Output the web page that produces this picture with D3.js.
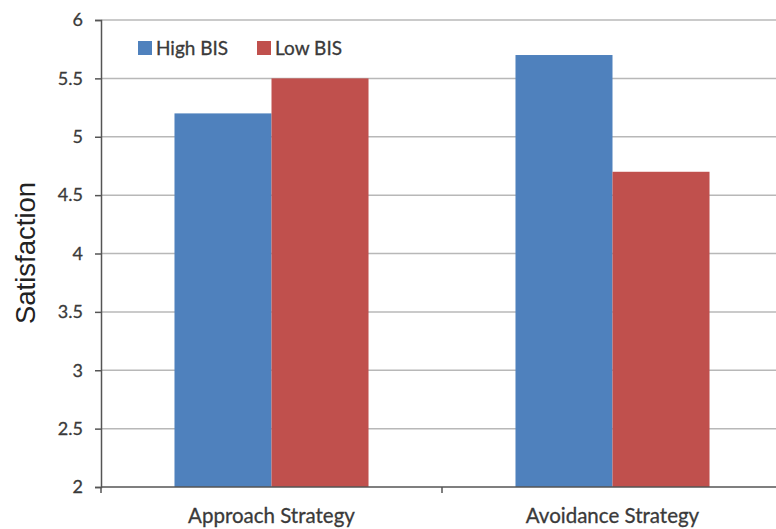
<!DOCTYPE html>
<html>
<head>
<meta charset="utf-8">
<script src="https://cdn.jsdelivr.net/npm/d3@7"></script>
<style>
  html, body { margin: 0; padding: 0; background: #fff; }
  svg { display: block; }
</style>
</head>
<body>
<script>
// Satisfaction by strategy and BIS level
const categories = ["Approach Strategy", "Avoidance Strategy"];
const seriesNames = ["High BIS", "Low BIS"];
const highBIS = [5.2, 5.7];
const lowBIS = [5.5, 4.7];
const yTicks = [2, 2.5, 3, 3.5, 4, 4.5, 5, 5.5, 6];
const colors = ["#4F81BD", "#C0504D"];

const W = 776, H = 529;
const margin = { left: 101, top: 20, right: -7, bottom: 42 };
const plotW = W - margin.left - margin.right;
const plotH = H - margin.top - margin.bottom;

const svg = d3.select("body").append("svg").attr("width", W).attr("height", H);
const g = svg.append("g").attr("transform", `translate(${margin.left},${margin.top})`);

const x0 = d3.scaleBand().domain(categories).range([0, plotW]).paddingInner(0.431).paddingOuter(0.2155);
const x1 = d3.scaleBand().domain(seriesNames).range([0, x0.bandwidth()]);
const y = d3.scaleLinear().domain([2, 6]).range([plotH, 0]);

const font = "Lato, 'Open Sans', sans-serif";
const textColor = "#3a3a3a";

// horizontal gridlines
g.append("g").selectAll("line").data(yTicks.filter(t => t > 2)).join("line")
  .attr("x1", 0).attr("x2", plotW)
  .attr("y1", d => y(d)).attr("y2", d => y(d))
  .attr("stroke", "#b8b8b8").attr("stroke-width", 1.5);

// bars
const rows = categories.map((c, i) => ({ cat: c, vals: [highBIS[i], lowBIS[i]] }));
g.append("g").selectAll("g").data(rows).join("g")
  .attr("transform", d => `translate(${x0(d.cat)},0)`)
  .selectAll("rect").data(d => d.vals.map((v, j) => ({ s: seriesNames[j], v, j }))).join("rect")
  .attr("x", d => x1(d.s)).attr("width", x1.bandwidth())
  .attr("y", d => y(d.v)).attr("height", d => y(2) - y(d.v))
  .attr("fill", d => colors[d.j]);

// y axis
const yAxis = g.append("g").call(d3.axisLeft(y).tickValues(yTicks).tickSize(6).tickPadding(12)
  .tickFormat(d => String(d)));
yAxis.select(".domain").attr("stroke", "#555").attr("stroke-width", 1.5);
yAxis.selectAll(".tick line").attr("stroke", "#555").attr("stroke-width", 1.5);
yAxis.selectAll("text").attr("font-family", font).attr("font-size", 18).attr("fill", textColor)
  .attr("stroke", textColor).attr("stroke-width", 0.3);

// x axis with category separators
const xg = g.append("g").attr("transform", `translate(0,${plotH})`);
xg.append("line").attr("x1", 0).attr("x2", plotW).attr("stroke", "#555").attr("stroke-width", 1.5);
const seps = [0, x0.step(), 2 * x0.step()];
xg.selectAll("line.sep").data(seps).join("line").attr("class", "sep")
  .attr("x1", d => d).attr("x2", d => d).attr("y1", 0).attr("y2", 6)
  .attr("stroke", "#555").attr("stroke-width", 1.5);
xg.selectAll("text").data(categories).join("text")
  .attr("x", d => x0(d) + x0.bandwidth() / 2).attr("y", 36)
  .attr("text-anchor", "middle").attr("font-family", font).attr("font-size", 20.5).attr("fill", textColor)
  .attr("stroke", textColor).attr("stroke-width", 0.3)
  .text(d => d);

// y title
svg.append("text").attr("transform", "translate(35,253) rotate(-90)")
  .attr("text-anchor", "middle").attr("font-family", "Liberation Sans, Arial, sans-serif")
  .attr("font-size", 27.5).attr("fill", "#222").text("Satisfaction");

// legend
const legendX = [138, 257];
const leg = svg.append("g").selectAll("g").data(seriesNames).join("g")
  .attr("transform", (d, i) => `translate(${legendX[i]},41)`);
leg.append("rect").attr("width", 14).attr("height", 14).attr("fill", (d, i) => colors[i]);
leg.append("text").attr("x", 18).attr("y", 13.5).attr("font-family", font).attr("font-size", 19)
  .attr("fill", textColor).attr("stroke", textColor).attr("stroke-width", 0.3).text(d => d);
</script>
</body>
</html>
